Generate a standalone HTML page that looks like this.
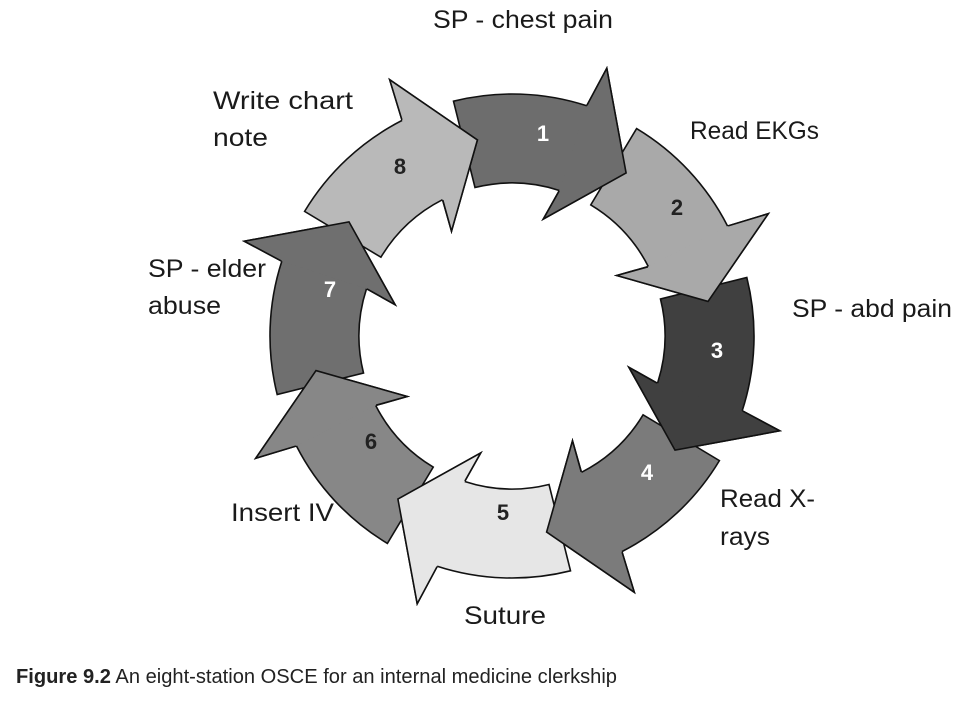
<!DOCTYPE html>
<html><head><meta charset="utf-8"><style>
html,body{margin:0;padding:0;background:#fff;}
svg{display:block;}
text{font-family:"Liberation Sans",sans-serif;}
</style></head><body>
<svg id="s" width="972" height="701" viewBox="0 0 972 701" xmlns="http://www.w3.org/2000/svg">
<g id="ring"></g>
<g font-size="25" fill="#1a1a1a">
<text x="433" y="28" textLength="180" lengthAdjust="spacingAndGlyphs">SP - chest pain</text>
<text x="690" y="139" textLength="129" lengthAdjust="spacingAndGlyphs">Read EKGs</text>
<text x="213" y="109" textLength="140" lengthAdjust="spacingAndGlyphs">Write chart</text>
<text x="213" y="146" textLength="55" lengthAdjust="spacingAndGlyphs">note</text>
<text x="792" y="317" textLength="160" lengthAdjust="spacingAndGlyphs">SP - abd pain</text>
<text x="148" y="277" textLength="118" lengthAdjust="spacingAndGlyphs">SP - elder</text>
<text x="148" y="314" textLength="73" lengthAdjust="spacingAndGlyphs">abuse</text>
<text x="720" y="507" textLength="95" lengthAdjust="spacingAndGlyphs">Read X-</text>
<text x="720" y="545" textLength="50" lengthAdjust="spacingAndGlyphs">rays</text>
<text x="231" y="521" textLength="103" lengthAdjust="spacingAndGlyphs">Insert IV</text>
<text x="464" y="624" textLength="82" lengthAdjust="spacingAndGlyphs">Suture</text>
</g>
<g font-size="22" font-weight="bold" text-anchor="middle">
<text x="543" y="141" fill="#fff">1</text>
<text x="677" y="215" fill="#222">2</text>
<text x="717" y="358" fill="#fff">3</text>
<text x="647" y="480" fill="#fff">4</text>
<text x="503" y="520" fill="#222">5</text>
<text x="371" y="449" fill="#222">6</text>
<text x="330" y="297" fill="#fff">7</text>
<text x="400" y="174" fill="#222">8</text>
</g>
<text x="16" y="683" font-size="20" fill="#222" textLength="601" lengthAdjust="spacingAndGlyphs"><tspan font-weight="bold">Figure 9.2</tspan>  An eight-station OSCE for an internal medicine clerkship</text>
</svg>
<script>
(function(){
var cx=512,cy=336,R=242,r=153,Rb=284,rb=121,rm=199;
var cols=["#6d6d6d","#a9a9a9","#404040","#7b7b7b","#e6e6e6","#878787","#6f6f6f","#b9b9b9"];
function p(a,rad){var t=a*Math.PI/180;return (cx+rad*Math.sin(t)).toFixed(1)+","+(cy-rad*Math.cos(t)).toFixed(1);}
var g=document.getElementById("ring"),ns="http://www.w3.org/2000/svg";
function mk(d,fill,stroke){var e=document.createElementNS(ns,"path");e.setAttribute("d",d);e.setAttribute("fill",fill);e.setAttribute("stroke",stroke);e.setAttribute("stroke-width","1.6");e.setAttribute("stroke-linejoin","miter");g.appendChild(e);}
for(var k=0;k<8;k++){
 var o=45*k,t0=o-14,t1=o+18,tb0=o+19.5,tb1=o+15,tt=o+35;
 var d="M"+p(t0,R)+" A"+R+","+R+" 0 0 1 "+p(t1,R)+" L"+p(tb0,Rb)+" L"+p(tt,rm)+" L"+p(tb1,rb)+" L"+p(t1,r)+" A"+r+","+r+" 0 0 0 "+p(t0,r)+" Z";
 mk(d,cols[k],"#111");
}
for(var k=0;k<8;k++){
 var o=45*k,t1=o+18,tb0=o+19.5,tb1=o+15,tt=o+35;
 mk("M"+p(t1,R)+" L"+p(tb0,Rb)+" L"+p(tt,rm)+" L"+p(tb1,rb)+" L"+p(t1,r)+" Z",cols[k],"none");
 mk("M"+p(t1,R+0.5)+" L"+p(tb0,Rb)+" L"+p(tt,rm)+" L"+p(tb1,rb)+" L"+p(t1,r-0.5),"none","#111");
}
})();
</script>
</body></html>
